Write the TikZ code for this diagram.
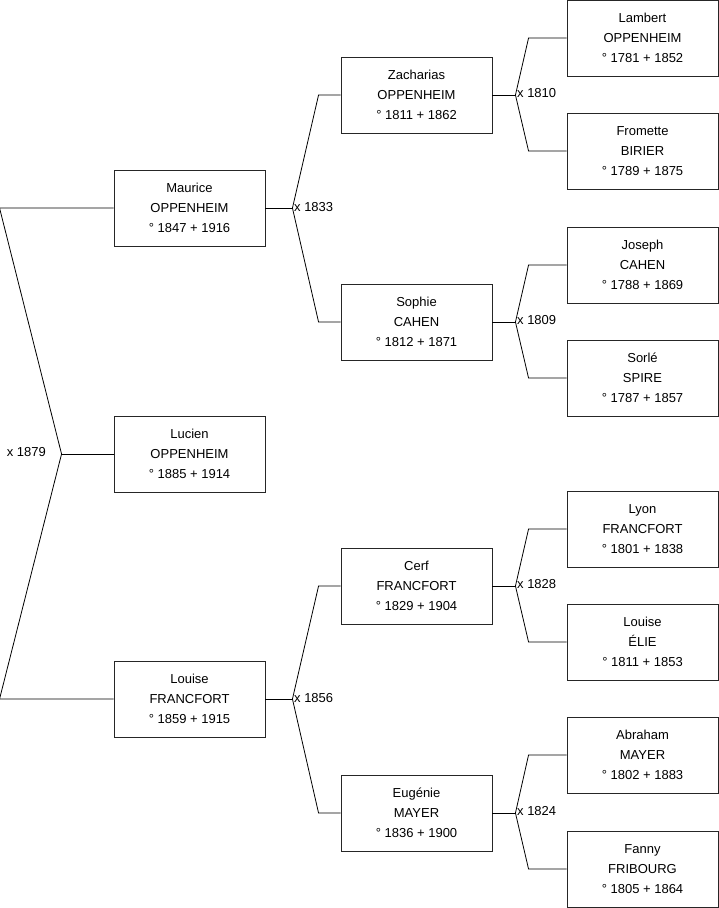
\documentclass[tikz,border=0pt]{standalone}
\usepackage{fontspec}
\setmainfont{Liberation Sans}
\begin{document}
\begin{tikzpicture}[x=1pt,y=-1pt,
  person/.style={draw=black!85, line width=0.9pt, minimum width=151pt, minimum height=76pt, inner sep=0pt, align=center, font=\fontsize{13}{20}\selectfont},
  link/.style={draw=black, line width=0.8pt},
  mlabel/.style={font=\fontsize{13}{15}\selectfont, inner sep=1.5pt}]
\useasboundingbox (0,0) rectangle (719,908);
% generation 1
\node[person] (lucien) at (189.5,454) {Lucien\\OPPENHEIM\\° 1885 + 1914};
% generation 2
\node[person] (maurice) at (189.5,208) {Maurice\\OPPENHEIM\\° 1847 + 1916};
\node[person] (louisef) at (189.5,699) {Louise\\FRANCFORT\\° 1859 + 1915};
% generation 3
\node[person] (zach) at (416.5,95) {Zacharias\\OPPENHEIM\\° 1811 + 1862};
\node[person] (sophie) at (416.5,322) {Sophie\\CAHEN\\° 1812 + 1871};
\node[person] (cerf) at (416.5,586) {Cerf\\FRANCFORT\\° 1829 + 1904};
\node[person] (eugenie) at (416.5,813) {Eugénie\\MAYER\\° 1836 + 1900};
% generation 4
\node[person] (lambert) at (642.5,38) {Lambert\\OPPENHEIM\\° 1781 + 1852};
\node[person] (fromette) at (642.5,151) {Fromette\\BIRIER\\° 1789 + 1875};
\node[person] (joseph) at (642.5,265) {Joseph\\CAHEN\\° 1788 + 1869};
\node[person] (sorle) at (642.5,378) {Sorlé\\SPIRE\\° 1787 + 1857};
\node[person] (lyon) at (642.5,529) {Lyon\\FRANCFORT\\° 1801 + 1838};
\node[person] (louisee) at (642.5,642) {Louise\\ÉLIE\\° 1811 + 1853};
\node[person] (abraham) at (642.5,755) {Abraham\\MAYER\\° 1802 + 1883};
\node[person] (fanny) at (642.5,869) {Fanny\\FRIBOURG\\° 1805 + 1864};

% level 0 fork
\draw[link] (lucien.west) -- ++(-52,0) coordinate (j0);
\draw[link] (j0) -- ([xshift=-114pt]maurice.west) -- (maurice.west);
\draw[link] (j0) -- ([xshift=-114pt]louisef.west) -- (louisef.west);
\node[mlabel, anchor=east] at ([xshift=-14pt,yshift=1.5pt]j0) {x 1879};

% level 1 forks
\draw[link] (maurice.east) -- ++(27,0) coordinate (j1);
\draw[link] (j1) -- ([xshift=-22pt]zach.west) -- (zach.west);
\draw[link] (j1) -- ([xshift=-22pt]sophie.west) -- (sophie.west);
\node[mlabel, anchor=west] at ([yshift=1pt]j1) {x 1833};

\draw[link] (louisef.east) -- ++(27,0) coordinate (j2);
\draw[link] (j2) -- ([xshift=-22pt]cerf.west) -- (cerf.west);
\draw[link] (j2) -- ([xshift=-22pt]eugenie.west) -- (eugenie.west);
\node[mlabel, anchor=west] at ([yshift=1pt]j2) {x 1856};

% level 2 forks
\draw[link] (zach.east) -- ++(23,0) coordinate (j3);
\draw[link] (j3) -- ([xshift=-38pt]lambert.west) -- (lambert.west);
\draw[link] (j3) -- ([xshift=-38pt]fromette.west) -- (fromette.west);
\node[mlabel, anchor=west] at ([yshift=2pt]j3) {x 1810};

\draw[link] (sophie.east) -- ++(23,0) coordinate (j4);
\draw[link] (j4) -- ([xshift=-38pt]joseph.west) -- (joseph.west);
\draw[link] (j4) -- ([xshift=-38pt]sorle.west) -- (sorle.west);
\node[mlabel, anchor=west] at ([yshift=2pt]j4) {x 1809};

\draw[link] (cerf.east) -- ++(23,0) coordinate (j5);
\draw[link] (j5) -- ([xshift=-38pt]lyon.west) -- (lyon.west);
\draw[link] (j5) -- ([xshift=-38pt]louisee.west) -- (louisee.west);
\node[mlabel, anchor=west] at ([yshift=2pt]j5) {x 1828};

\draw[link] (eugenie.east) -- ++(23,0) coordinate (j6);
\draw[link] (j6) -- ([xshift=-38pt]abraham.west) -- (abraham.west);
\draw[link] (j6) -- ([xshift=-38pt]fanny.west) -- (fanny.west);
\node[mlabel, anchor=west] at ([yshift=2pt]j6) {x 1824};
\end{tikzpicture}
\end{document}
